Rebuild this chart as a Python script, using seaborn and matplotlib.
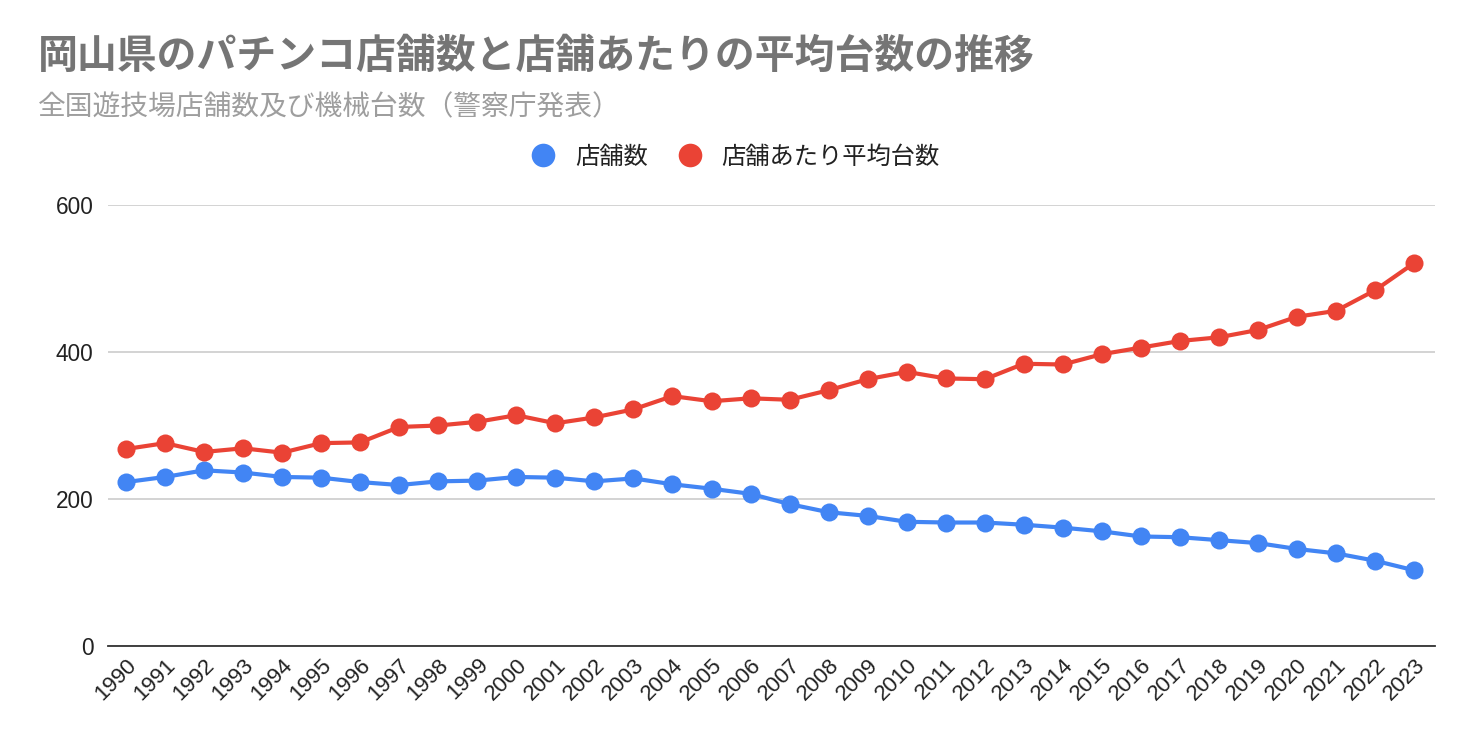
import matplotlib
matplotlib.use("Agg")
import matplotlib.pyplot as plt
import seaborn as sns
import pandas as pd

# values
years = list(range(1990, 2024))
stores = [223, 230, 239, 236, 230, 229, 223, 219, 224, 225,
          230, 229, 224, 228, 220, 214, 207, 193, 182, 177,
          169, 168, 168, 165, 161, 156, 149, 148, 144, 140,
          132, 126, 116, 103]
avg_units = [268, 276, 264, 269, 263, 276, 277, 298, 300, 305,
             314, 303, 311, 322, 340, 333, 337, 335, 348, 363,
             373, 364, 363, 384, 383, 397, 406, 415, 420, 430,
             448, 456, 484, 521]
series_names = ["店舗数", "店舗あたり平均台数"]
colors = ["#4285F4", "#EA4335"]

df = pd.DataFrame({
    "year": [str(y) for y in years] * 2,
    "value": stores + avg_units,
    "series": [series_names[0]] * len(years) + [series_names[1]] * len(years),
})

sns.set_style("white")
plt.rcParams["font.family"] = ["Noto Sans CJK JP", "DejaVu Sans"]

fig = plt.figure(figsize=(14.72, 7.42), dpi=100)
ax = fig.add_axes([0.0734, 0.1294, 0.9016, 0.5943])

sns.lineplot(data=df, x="year", y="value", hue="series", palette=colors,
             marker="o", markersize=13, markeredgewidth=0, linewidth=3,
             sort=False, ax=ax, legend=False)

ax.set_ylim(0, 600)
ax.set_yticks([0, 200, 400, 600])
ax.set_xlim(-0.46, len(years) - 1 + 0.54)
ax.grid(axis="y", color="#cccccc", linewidth=1.2)
ax.set_axisbelow(True)
for s in ["top", "right", "left"]:
    ax.spines[s].set_visible(False)
ax.spines["bottom"].set_color("#333333")
ax.spines["bottom"].set_linewidth(1.3)
ax.set_xlabel("")
ax.set_ylabel("")
ax.tick_params(axis="y", length=0, labelsize=16.3, labelcolor="#222222", pad=10.5)
ax.tick_params(axis="x", length=0, labelsize=16, labelcolor="#222222", pad=6)
for lbl in ax.get_yticklabels():
    lbl.set_fontfamily(["Liberation Sans", "DejaVu Sans"])
for lbl in ax.get_xticklabels():
    lbl.set_fontfamily(["Liberation Sans", "DejaVu Sans"])
    lbl.set_rotation(45)
    lbl.set_ha("right")
    lbl.set_rotation_mode("anchor")

fig.text(0.026, 0.924, "岡山県のパチンコ店舗数と店舗あたりの平均台数の推移",
         fontsize=28.7, fontweight="bold", color="#757575", va="center")
fig.text(0.026, 0.856, "全国遊技場店舗数及び機械台数（警察庁発表）",
         fontsize=20, color="#9e9e9e", va="center")

handles = [plt.Line2D([], [], marker="o", linestyle="", markersize=17,
                      markerfacecolor=c, markeredgewidth=0) for c in colors]
fig.legend(handles, series_names, loc="center", bbox_to_anchor=(0.4955, 0.789),
           ncol=2, frameon=False, fontsize=17.5, handletextpad=0.3,
           columnspacing=0.75, labelcolor="#222222")

fig.savefig("out.png", dpi=100)
